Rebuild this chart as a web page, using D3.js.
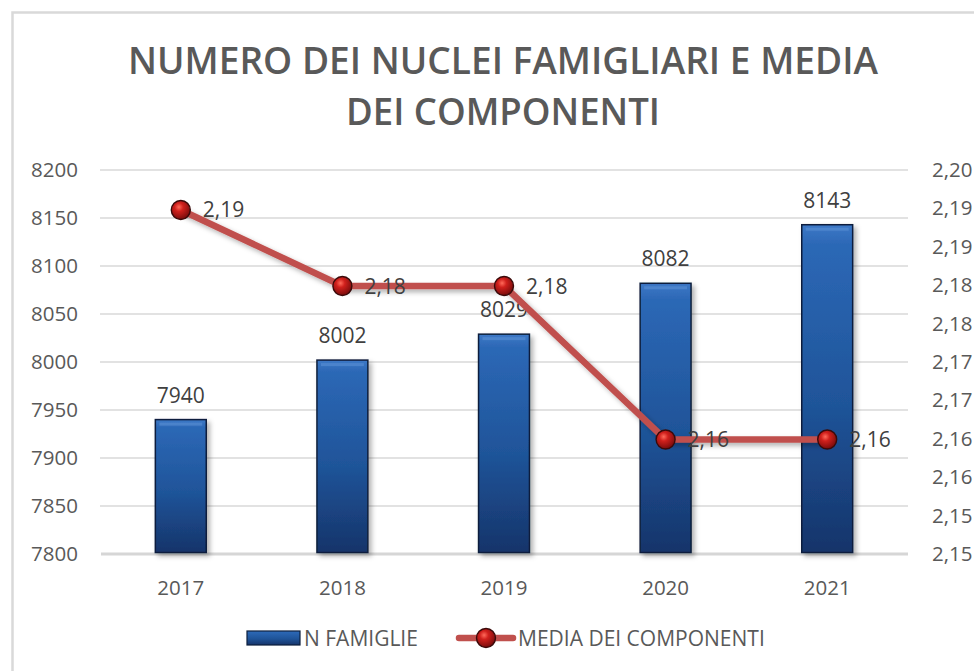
<!DOCTYPE html>
<html>
<head>
<meta charset="utf-8">
<script src="https://cdn.jsdelivr.net/npm/d3@7"></script>
<style>
    body { margin: 0; background: #fff; }
    svg text { font-family: "Open Sans", "DejaVu Sans", sans-serif; }
</style>
</head>
<body>
<svg id="chart" width="974" height="671"></svg>
<script>
// data
const years = ["2017", "2018", "2019", "2020", "2021"];
const famiglie = [7940, 8002, 8029, 8082, 8143];
const media = [2.1948, 2.1849, 2.1849, 2.1649, 2.1649];
const leftTicks = [7800, 7850, 7900, 7950, 8000, 8050, 8100, 8150, 8200];
const rightTicks = [2.150, 2.155, 2.160, 2.165, 2.170, 2.175, 2.180, 2.185, 2.190, 2.195, 2.200];
const rightTickLabels = ["2,15", "2,15", "2,16", "2,16", "2,17", "2,17", "2,18", "2,18", "2,19", "2,19", "2,20"];
const titleLines = ["NUMERO DEI NUCLEI FAMIGLIARI E MEDIA", "DEI COMPONENTI"];
const legendNames = ["N FAMIGLIE", "MEDIA DEI COMPONENTI"];

const svgWidth = 974, svgHeight = 671;
const margin = {left: 100, right: 66, top: 170, bottom: 117};
const textCol = "#595959";
const lineCol = "#c0504d";

const svg = d3.select("#chart");
const itIT = d3.formatLocale({decimal: ",", thousands: ".", grouping: [3], currency: ["", "€"]});
const fmt = itIT.format(".2f");

// gradients, shadows
const defs = svg.append("defs");
const barGrad = defs.append("linearGradient").attr("id", "barGrad")
    .attr("x1", 0).attr("y1", 0).attr("x2", 0).attr("y2", 1);
barGrad.append("stop").attr("offset", "0%").attr("stop-color", "#3d78c6");
barGrad.append("stop").attr("offset", "6%").attr("stop-color", "#2c68b6");
barGrad.append("stop").attr("offset", "55%").attr("stop-color", "#1f5499");
barGrad.append("stop").attr("offset", "100%").attr("stop-color", "#16346a");

const dotGrad = defs.append("radialGradient").attr("id", "dotGrad")
    .attr("cx", "40%").attr("cy", "35%").attr("r", "65%");
dotGrad.append("stop").attr("offset", "0%").attr("stop-color", "#ff6a5a");
dotGrad.append("stop").attr("offset", "35%").attr("stop-color", "#d0201c");
dotGrad.append("stop").attr("offset", "100%").attr("stop-color", "#7a0c0c");

const shadow = defs.append("filter").attr("id", "shadow")
    .attr("x", "-20%").attr("y", "-20%").attr("width", "150%").attr("height", "150%");
shadow.append("feDropShadow").attr("dx", 3).attr("dy", 3).attr("stdDeviation", 2.5)
    .attr("flood-color", "#000").attr("flood-opacity", 0.3);

// chart border
svg.append("rect")
    .attr("x", 12.5).attr("y", 12.5)
    .attr("width", svgWidth).attr("height", svgHeight)
    .attr("fill", "none").attr("stroke", "#d9d9d9").attr("stroke-width", 2.5);

// title
svg.append("g").selectAll("text")
    .data(titleLines)
    .enter().append("text")
    .attr("x", 503)
    .attr("y", (d, i) => 74 + i * 51)
    .attr("text-anchor", "middle")
    .attr("font-size", 37)
    .attr("font-weight", 600)
    .attr("fill", textCol)
    .attr("textLength", (d, i) => i === 0 ? 750 : 314)
    .attr("lengthAdjust", "spacingAndGlyphs")
    .text(d => d);

// scales
const x = d3.scaleBand()
    .domain(years)
    .range([margin.left, svgWidth - margin.right])
    .paddingInner(0.685)
    .paddingOuter(0.3425);
const yL = d3.scaleLinear().domain([7800, 8200]).range([svgHeight - margin.bottom, margin.top]);
const yR = d3.scaleLinear().domain([2.15, 2.20]).range([svgHeight - margin.bottom, margin.top]);

// gridlines
svg.append("g").selectAll("line")
    .data(leftTicks.slice(1))
    .enter().append("line")
    .attr("x1", margin.left).attr("x2", svgWidth - margin.right)
    .attr("y1", d => yL(d)).attr("y2", d => yL(d))
    .attr("stroke", "#d9d9d9").attr("stroke-width", 1.3);

// axes
const leftAxis = svg.append("g")
    .attr("transform", `translate(${margin.left - 22},0)`)
    .call(d3.axisLeft(yL).tickValues(leftTicks).tickSize(0).tickPadding(0)
        .tickFormat(d3.format("d")));
const rightAxis = svg.append("g")
    .attr("transform", `translate(${svgWidth - margin.right + 24},0)`)
    .call(d3.axisRight(yR).tickValues(rightTicks).tickSize(0).tickPadding(0)
        .tickFormat((d, i) => rightTickLabels[i]));
const bottomAxis = svg.append("g")
    .attr("transform", `translate(0,${svgHeight - margin.bottom})`)
    .call(d3.axisBottom(x).tickSize(0).tickPadding(26));

[leftAxis, rightAxis, bottomAxis].forEach(a => {
    a.select(".domain").remove();
    a.selectAll("text").attr("font-size", 20.5).attr("fill", textCol)
        .attr("font-family", "'Open Sans', sans-serif");
});
bottomAxis.selectAll("text").attr("dy", "0.71em");

// baseline
svg.append("line")
    .attr("x1", margin.left + 1).attr("x2", svgWidth - margin.right)
    .attr("y1", yL(7800)).attr("y2", yL(7800))
    .attr("stroke", "#d6d6d6").attr("stroke-width", 3);

// bars
svg.append("g").selectAll("rect")
    .data(famiglie)
    .enter().append("rect")
    .attr("x", (d, i) => x(years[i]))
    .attr("y", d => yL(d))
    .attr("width", x.bandwidth())
    .attr("height", d => yL(7800) - yL(d) - 1.5)
    .attr("fill", "url(#barGrad)")
    .attr("stroke", "#0d1f3c").attr("stroke-width", 1.5)
    .attr("filter", "url(#shadow)");

// bar top highlight
svg.append("g").selectAll("rect")
    .data(famiglie)
    .enter().append("rect")
    .attr("x", (d, i) => x(years[i]) + 4)
    .attr("y", d => yL(d) + 3)
    .attr("width", x.bandwidth() - 8)
    .attr("height", 3)
    .attr("fill", "#5a8fd4").attr("opacity", 0.6);

// bar labels
svg.append("g").selectAll("text")
    .data(famiglie)
    .enter().append("text")
    .attr("x", (d, i) => x(years[i]) + x.bandwidth() / 2)
    .attr("y", d => yL(d) - 17)
    .attr("text-anchor", "middle")
    .attr("font-size", 21)
    .attr("fill", "#404040")
    .text(d => d);

// line
const cx = (d, i) => x(years[i]) + x.bandwidth() / 2;
const line = d3.line().x(cx).y(d => yR(d));
svg.append("path")
    .datum(media)
    .attr("d", line)
    .attr("fill", "none")
    .attr("stroke", lineCol)
    .attr("stroke-width", 6.5)
    .attr("stroke-linejoin", "round")
    .attr("filter", "url(#shadow)");

// markers
function dot(sel) {
    sel.attr("r", 9.5)
        .attr("fill", "url(#dotGrad)")
        .attr("stroke", "#3a0a0a").attr("stroke-width", 1.4);
}
svg.append("g").selectAll("circle")
    .data(media)
    .enter().append("circle")
    .attr("cx", cx).attr("cy", d => yR(d))
    .call(dot);

// line labels
svg.append("g").selectAll("text")
    .data(media)
    .enter().append("text")
    .attr("x", (d, i) => cx(d, i) + 22)
    .attr("y", d => yR(d))
    .attr("dy", "0.36em")
    .attr("font-size", 21)
    .attr("fill", "#404040")
    .text(d => fmt(d));

// legend
const leg = svg.append("g").attr("transform", "translate(0,638)");
leg.append("rect")
    .attr("x", 247).attr("y", -7).attr("width", 53).attr("height", 14)
    .attr("fill", "url(#barGrad)").attr("stroke", "#0d1f3c").attr("stroke-width", 1.2);
leg.append("text")
    .attr("x", 304).attr("y", 0).attr("dy", "0.36em")
    .attr("font-size", 21).attr("fill", textCol)
    .text(legendNames[0]);
leg.append("line")
    .attr("x1", 459).attr("x2", 513).attr("y1", 0).attr("y2", 0)
    .attr("stroke", lineCol).attr("stroke-width", 6.5).attr("stroke-linecap", "round");
leg.append("circle").attr("cx", 486).attr("cy", 0).call(dot);
leg.append("text")
    .attr("x", 518).attr("y", 0).attr("dy", "0.36em")
    .attr("font-size", 21).attr("fill", textCol)
    .text(legendNames[1]);
</script>
</body>
</html>
